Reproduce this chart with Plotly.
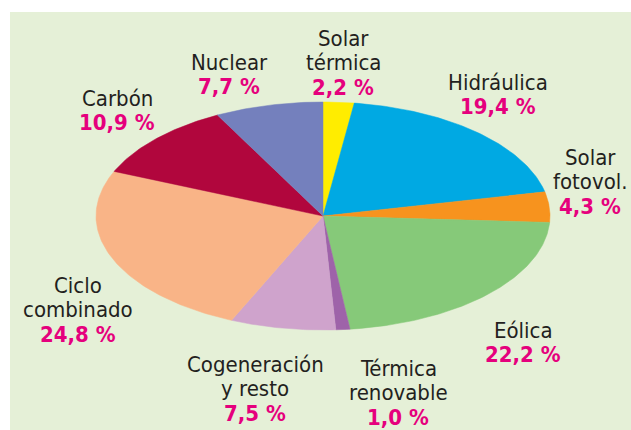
import math
import plotly.graph_objects as go

# ---- data ----
categories = ["Solar térmica", "Hidráulica", "Solar fotovol.", "Eólica",
              "Térmica renovable", "Cogeneración y resto", "Ciclo combinado",
              "Carbón", "Nuclear"]
label_lines = [["Solar", "térmica"], ["Hidráulica"], ["Solar", "fotovol."], ["Eólica"],
               ["Térmica", "renovable"], ["Cogeneración", "y resto"], ["Ciclo", "combinado"],
               ["Carbón"], ["Nuclear"]]
values = [2.2, 19.4, 4.3, 22.2, 1.0, 7.5, 24.8, 10.9, 7.7]
pct_labels = ["2,2 %", "19,4 %", "4,3 %", "22,2 %", "1,0 %", "7,5 %", "24,8 %", "10,9 %", "7,7 %"]

# ---- styles / layout ----
colors = ["#FFED00", "#00A9E3", "#F7931E", "#86C979", "#9E63A9",
          "#CFA3CC", "#F9B487", "#B1063D", "#7480BD"]
CX, CY = 323, 216           # ellipse centre (axis units = px)
RX, RY = 227, 114           # ellipse radii
LINE = 24.5                 # label line pitch
label_pos = [(343, 38), (498, 82), (590, 157), (523, 330),
             (398, 368), (255, 364), (78, 285), (117, 98), (229, 62)]
FONT = "DejaVu Sans Condensed, Liberation Sans Narrow, Arial Narrow, sans-serif"

fig = go.Figure()
total = sum(values)
cum = 0.0
for name, v, c in zip(categories, values, colors):
    a0 = cum / total * 2 * math.pi
    a1 = (cum + v) / total * 2 * math.pi
    n = max(4, int(v * 4))
    xs, ys = [CX], [CY]
    for i in range(n + 1):
        t = a0 + (a1 - a0) * i / n
        xs.append(CX + RX * math.sin(t))
        ys.append(CY - RY * math.cos(t))
    xs.append(CX); ys.append(CY)
    fig.add_trace(go.Scatter(x=xs, y=ys, fill="toself", fillcolor=c, mode="lines",
                             line=dict(color=c, width=0.5), name=name,
                             hoverinfo="name", showlegend=False))
    cum += v

for lines, pct, (x, y) in zip(label_lines, pct_labels, label_pos):
    for k, ln in enumerate(lines):
        fig.add_annotation(x=x, y=y + k * LINE, xref="x", yref="y", showarrow=False,
                           text=ln, font=dict(family=FONT, size=22, color="#231F20"),
                           xanchor="center", yanchor="middle")
    fig.add_annotation(x=x, y=y + len(lines) * LINE, xref="x", yref="y", showarrow=False,
                       text=f"<b>{pct}</b>", font=dict(family=FONT, size=22, color="#E5007D"),
                       xanchor="center", yanchor="middle")

fig.update_layout(
    width=631, height=430,
    margin=dict(l=10, r=0, t=12, b=0),
    paper_bgcolor="white", plot_bgcolor="#E5F0D7",
    xaxis=dict(range=[10, 631], visible=False, fixedrange=True),
    yaxis=dict(range=[430, 12], visible=False, fixedrange=True),
)
fig.write_html("out.html", config={"displayModeBar": False},
               post_script="document.body.style.margin='0';document.body.style.overflow='hidden';")
